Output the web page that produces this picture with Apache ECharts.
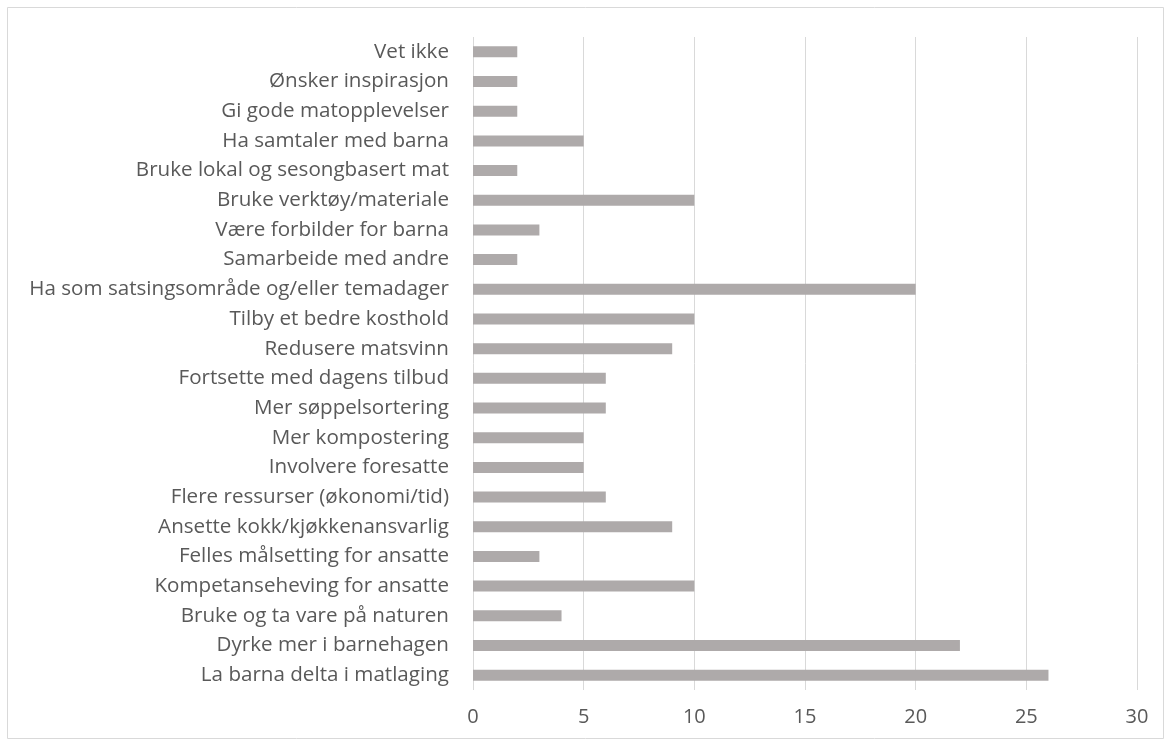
<!DOCTYPE html>
<html><head><meta charset="utf-8">
<script src="https://cdn.jsdelivr.net/npm/echarts@6/dist/echarts.min.js"></script>
<style>html,body{margin:0;padding:0;background:#fff}#c{width:1171px;height:747px}</style>
</head><body><div id="c"></div>
<script>
const categories = ["Vet ikke","Ønsker inspirasjon","Gi gode matopplevelser","Ha samtaler med barna","Bruke lokal og sesongbasert mat","Bruke verktøy/materiale","Være forbilder for barna","Samarbeide med andre","Ha som satsingsområde og/eller temadager","Tilby et bedre kosthold","Redusere matsvinn","Fortsette med dagens tilbud","Mer søppelsortering","Mer kompostering","Involvere foresatte","Flere ressurser (økonomi/tid)","Ansette kokk/kjøkkenansvarlig","Felles målsetting for ansatte","Kompetanseheving for ansatte","Bruke og ta vare på naturen","Dyrke mer i barnehagen","La barna delta i matlaging"];
const values = [2,2,2,5,2,10,3,2,20,10,9,6,6,5,5,6,9,3,10,4,22,26];
const xTicks = [0,5,10,15,20,25,30];

const chart = echarts.init(document.getElementById('c'), null, {renderer:'canvas'});
const font = 'Open Sans';
chart.setOption({
  animation:false,
  backgroundColor:'#fff',
  graphic:[{type:'rect',shape:{x:7.5,y:7.5,width:1156,height:731},style:{fill:'none',stroke:'#d9d9d9',lineWidth:1}}],
  grid:{left:473,right:34,top:37,bottom:57,containLabel:false},
  xAxis:{type:'value',min:xTicks[0],max:xTicks[xTicks.length-1],interval:5,
    axisLine:{show:false},axisTick:{show:false},
    splitLine:{show:true,lineStyle:{color:'#d9d9d9',width:1}},
    axisLabel:{color:'#595959',fontFamily:font,fontSize:20,margin:17}},
  yAxis:{type:'category',data:categories,inverse:true,
    axisLine:{show:false},axisTick:{show:false},
    axisLabel:{color:'#595959',fontFamily:font,fontSize:20.6,margin:24,interval:0}},
  series:[{type:'bar',data:values,barWidth:11,itemStyle:{color:'#aeaaaa'},silent:true}]
});
</script></body></html>
